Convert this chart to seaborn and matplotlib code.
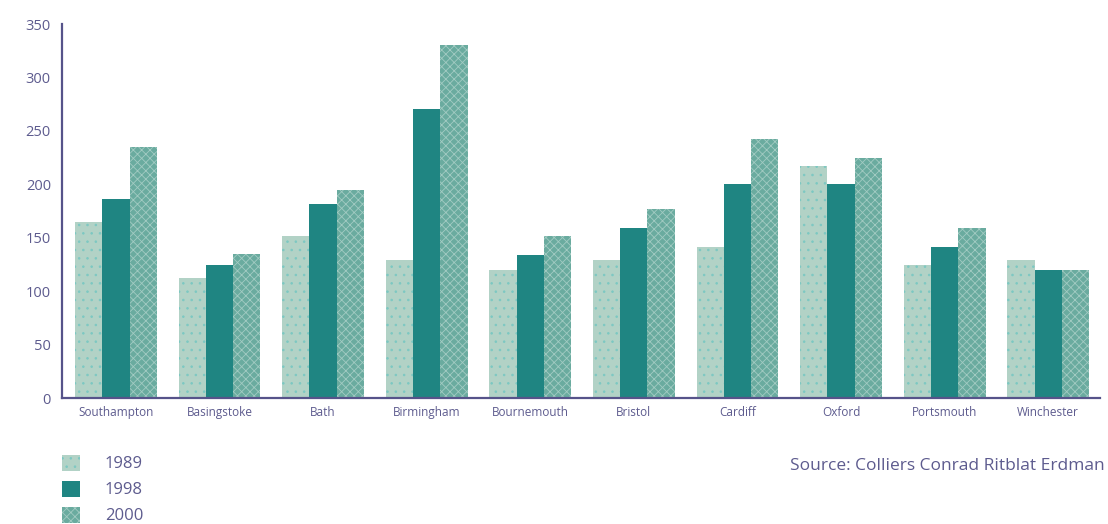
import matplotlib
matplotlib.use("Agg")
import matplotlib.pyplot as plt
import matplotlib.patches as mpatches
from matplotlib.ticker import FixedLocator
import numpy as np
import pandas as pd
import seaborn as sns

cities = ["Southampton", "Basingstoke", "Bath", "Birmingham", "Bournemouth",
          "Bristol", "Cardiff", "Oxford", "Portsmouth", "Winchester"]
years = ["1989", "1998", "2000"]
values_1989 = [165, 112, 152, 129, 120, 129, 141, 217, 124, 129]
values_1998 = [186, 124, 182, 270, 134, 159, 200, 200, 141, 120]
values_2000 = [235, 135, 195, 330, 152, 177, 242, 225, 159, 120]
y_ticks = [0, 50, 100, 150, 200, 250, 300, 350]
source_text = "Source: Colliers Conrad Ritblat Erdman"

df = pd.DataFrame({
    "city": cities * 3,
    "year": [years[0]] * 10 + [years[1]] * 10 + [years[2]] * 10,
    "value": values_1989 + values_1998 + values_2000,
})

sns.set_theme(style="white")
plt.rcParams["font.family"] = ["Open Sans", "DejaVu Sans"]
plt.rcParams["hatch.linewidth"] = 0.6

text_col = "#5d5b8e"
axis_col = "#56538a"
fills = {"1989": "#b2d2c6", "1998": "#1f8582", "2000": "#6aab9f"}
hatch_cols = {"1989": "#7cc8c2", "1998": "#1f8582", "2000": "#a2cbc2"}
hatches = {"1989": "..", "1998": "", "2000": "xxxx"}

fig = plt.figure(figsize=(11.08, 5.24), dpi=100)
ax = fig.add_axes([62 / 1108, 126 / 524, (1100 - 62) / 1108, (398 - 24) / 524])

sns.barplot(data=df, x="city", y="value", hue="year", order=cities,
            hue_order=years, palette=fills, saturation=1, width=0.79, gap=0,
            errorbar=None, legend=False, ax=ax)

for cont, yr in zip(ax.containers, years):
    for bar in cont:
        bar.set_hatch(hatches[yr])
        bar.set_edgecolor(hatch_cols[yr])
        bar.set_linewidth(0)

ax.set_xlim(-0.52, 9.5)
ax.set_ylim(0, 350)
ax.set_yticks(y_ticks)
ax.set_yticklabels([str(v) for v in y_ticks], fontsize=10.5, color=text_col)
ax.tick_params(axis="y", direction="in", length=14, width=1.6, color=axis_col, pad=8)

ax.set_xticks(range(len(cities)))
ax.set_xticklabels(cities, fontsize=8.5, color=text_col)
ax.tick_params(axis="x", which="major", length=0, pad=6)
ax.xaxis.set_minor_locator(FixedLocator(np.arange(0.5, 9.6, 1.0)))
ax.tick_params(axis="x", which="minor", direction="in", length=8, width=1.6, color=axis_col)

for side in ("top", "right"):
    ax.spines[side].set_visible(False)
for side in ("left", "bottom"):
    ax.spines[side].set_color(axis_col)
    ax.spines[side].set_linewidth(1.6)
ax.set_xlabel("")
ax.set_ylabel("")

handles = []
for yr in years:
    handles.append(mpatches.Patch(facecolor=fills[yr], edgecolor=hatch_cols[yr],
                                  hatch=hatches[yr], linewidth=0, label=yr))
fig.legend(handles=handles, loc="upper left", bbox_to_anchor=(55 / 1108, 1 - 448 / 524),
           frameon=False, fontsize=12, handlelength=1.1, handleheight=1.1,
           handletextpad=1.5, labelspacing=0.5, borderaxespad=0, borderpad=0.4,
           labelcolor=text_col)

fig.text(1105 / 1108, 1 - 466 / 524, source_text, ha="right", va="center",
         fontsize=12.5, color=text_col)

fig.savefig("out.png", dpi=100)
